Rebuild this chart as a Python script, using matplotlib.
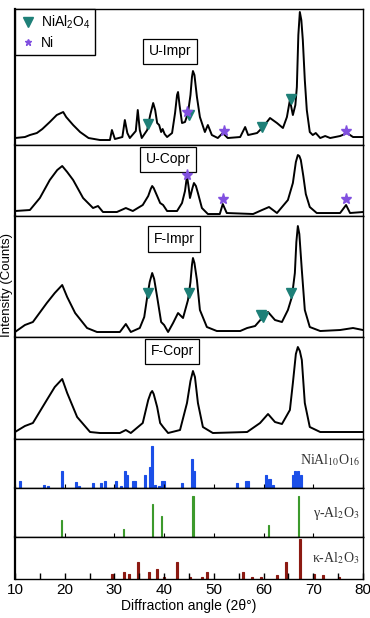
import matplotlib
matplotlib.use("Agg")
import matplotlib.pyplot as plt
from matplotlib.lines import Line2D

plt.rcParams["font.family"] = ["Liberation Sans", "DejaVu Sans"]
plt.rcParams["mathtext.fontset"] = "custom"
plt.rcParams["mathtext.rm"] = "Liberation Sans"
plt.rcParams["mathtext.it"] = "Liberation Sans:italic"

# ---- XRD patterns (2theta, intensity in a.u.) ----
u_impr_x = [10.0, 12.0, 13.0, 14.4, 15.5, 17.0, 18.4, 19.7, 20.3, 21.7, 23.1, 24.8, 27.1, 29.1,
            29.5, 30.1, 31.6, 32.1, 32.6, 33.1, 34.3, 34.7, 35.1, 35.5, 36.6, 37.2, 37.8, 38.2,
            38.6, 39.0, 39.4, 39.7, 40.1, 40.6, 41.6, 42.2, 42.6, 42.8, 43.1, 43.6, 44.2, 44.8,
            45.3, 45.6, 45.8, 46.1, 46.6, 47.2, 48.2, 48.8, 49.6, 50.8, 51.8, 52.8, 55.3, 56.3,
            56.9, 58.7, 59.9, 61.3, 62.7, 63.9, 64.7, 65.3, 65.9, 66.4, 66.7, 67.0, 67.3, 67.6,
            67.9, 68.3, 68.7, 69.3, 69.9, 70.5, 71.4, 72.4, 73.4, 75.4, 76.8, 78.0, 80.0]
u_impr_y = [7, 8, 10, 12, 16, 23, 30, 33, 28, 20, 13, 7, 5, 5,
            15, 6, 8, 25, 12, 7, 14, 35, 15, 7, 15, 30, 42, 35,
            22, 20, 13, 16, 11, 8, 12, 32, 50, 53, 40, 22, 23, 32,
            50, 68, 74, 70, 48, 28, 13, 20, 10, 7, 12, 7, 8, 18,
            10, 12, 18, 27, 22, 17, 28, 45, 30, 40, 58, 110, 133, 125,
            105, 65, 35, 13, 10, 12, 7, 9, 7, 9, 12, 8, 8]

u_copr_x = [10.0, 13.0, 15.0, 17.0, 18.5, 19.5, 20.5, 21.7, 23.7, 25.7, 26.7, 27.7, 30.5, 32.3,
            33.7, 35.7, 36.8, 37.3, 37.6, 37.9, 38.6, 39.2, 39.8, 40.6, 42.6, 43.6, 44.2, 44.6,
            44.9, 45.2, 45.7, 46.0, 46.4, 46.8, 47.6, 48.8, 51.2, 51.8, 52.6, 57.9, 59.7, 61.1,
            62.7, 64.9, 65.9, 66.5, 66.9, 67.2, 67.5, 68.0, 68.5, 69.3, 70.7, 75.4, 76.6, 77.4,
            80.0]
u_copr_y = [5, 6, 18, 36, 46, 50, 44, 36, 18, 8, 10, 4, 4, 8,
            5, 11, 20, 27, 30, 28, 20, 13, 11, 5, 5, 13, 25, 40,
            30, 18, 28, 33, 30, 23, 8, 2, 2, 12, 3, 2, 6, 9,
            3, 16, 33, 54, 61, 60, 56, 40, 22, 9, 3, 3, 11, 3,
            4]

f_impr_x = [10.0, 12.0, 13.6, 16.4, 18.0, 19.5, 20.5, 22.1, 24.5, 26.5, 31.1, 32.3, 33.3, 35.1,
            36.0, 36.6, 37.1, 37.6, 38.0, 38.6, 39.4, 40.0, 40.8, 41.8, 42.8, 43.8, 44.8, 45.3,
            45.6, 45.8, 46.1, 46.6, 47.2, 48.6, 50.6, 55.3, 56.7, 58.3, 59.7, 60.9, 62.3, 63.7,
            64.9, 65.7, 66.3, 66.6, 66.9, 67.2, 67.7, 68.3, 69.3, 71.4, 75.4, 78.0, 80.0]
f_impr_y = [5, 12, 15, 34, 44, 52, 40, 24, 9, 5, 5, 13, 5, 9,
            20, 40, 55, 64, 58, 40, 15, 12, 5, 14, 24, 19, 37, 55,
            72, 79, 74, 57, 27, 10, 6, 6, 9, 11, 19, 25, 17, 15,
            27, 40, 64, 95, 111, 103, 67, 27, 10, 6, 7, 9, 7]

f_copr_x = [10.0, 12.0, 13.6, 16.4, 18.0, 19.5, 20.5, 22.5, 25.1, 27.1, 31.1, 32.3, 33.3, 35.7,
            36.8, 37.3, 37.6, 37.9, 38.6, 39.2, 39.8, 40.8, 43.2, 44.6, 45.3, 45.8, 46.2, 46.8,
            47.8, 49.8, 56.7, 59.3, 60.9, 62.3, 63.7, 65.3, 65.9, 66.5, 66.9, 67.3, 67.7, 68.3,
            69.3, 71.4, 77.4, 80.0]
f_copr_y = [7, 13, 16, 39, 52, 60, 46, 22, 7, 6, 6, 9, 6, 16,
            39, 46, 48, 45, 32, 16, 12, 6, 9, 36, 58, 68, 62, 36,
            12, 6, 7, 16, 25, 17, 15, 29, 56, 85, 92, 88, 79, 36,
            12, 7, 7, 7]

# phase markers (2theta, height)
u_impr_spinel_x = [36.8, 45.0, 59.7, 65.5]
u_impr_spinel_y = [21, 30, 18, 46]
u_impr_ni_x = [44.6, 52.0, 76.6]
u_impr_ni_y = [33, 14, 14]
u_copr_ni_x = [44.6, 51.9, 76.6]
u_copr_ni_y = [41, 17, 17]
f_impr_spinel_x = [36.8, 45.0, 59.4, 59.9, 65.5]
f_impr_spinel_y = [44, 44, 22, 20, 44]

# reference patterns
nial10_pos = [11.1, 15.9, 16.7, 19.4, 22.2, 22.9, 25.6, 27.4, 28.1, 30.4, 31.4, 32.1, 32.6,
              33.7, 34.2, 36.1, 37.2, 37.6, 38.2, 38.9, 39.3, 39.6, 40.0, 43.5, 45.6, 46.1,
              54.6, 56.5, 56.9, 60.5, 61.0, 61.4, 61.9, 65.9, 66.3, 66.9, 67.5]
nial10_h = [7.3, 3.3, 1.7, 17.3, 5.7, 2.3, 5, 5, 6.7, 6.7, 1.7, 17.3, 13.3,
            6.7, 6.7, 13.3, 21, 41.7, 3.3, 1.7, 1.7, 6.7, 6.7, 5, 29, 16.7,
            5, 6.7, 6.7, 12.7, 9, 9, 3.3, 12.7, 16.7, 16.7, 12.7]
gamma_pos = [19.4, 31.9, 37.6, 39.5, 45.8, 61.0, 67.0]
gamma_h = [16.7, 8.3, 32.7, 20.7, 40.7, 12.3, 40.7]
kappa_pos = [29.5, 31.9, 33.0, 34.8, 37.0, 38.5, 40.0, 42.6, 45.2, 47.7, 48.7, 55.9, 57.6,
             59.5, 62.7, 64.5, 67.3, 70.2, 71.9, 75.2]
kappa_h = [5, 7.3, 5, 17, 7.3, 10.3, 1.7, 17, 1.7, 1.7, 7.3, 7.3, 1.7,
           1.7, 3.7, 17, 40, 5.3, 3.7, 1.7]

sample_names = ["U-Impr", "U-Copr", "F-Impr", "F-Copr"]
panel_heights = [136, 71, 121, 102, 49, 49, 42]

teal = "#1e8078"
purple = "#8150e0"

fig = plt.figure(figsize=(3.7, 6.18), dpi=100)
gs = fig.add_gridspec(7, 1, height_ratios=panel_heights, hspace=0,
                      left=0.0405, right=0.981, top=0.9854, bottom=0.0631)
axes = [fig.add_subplot(gs[0])]
for i in range(1, 7):
    axes.append(fig.add_subplot(gs[i], sharex=axes[0]))

curves = [(u_impr_x, u_impr_y), (u_copr_x, u_copr_y), (f_impr_x, f_impr_y), (f_copr_x, f_copr_y)]
label_pos = [(41.2, 0.69), (40.8, 0.80), (42.0, 0.81), (41.6, 0.86)]

for i, ax in enumerate(axes):
    ax.set_ylim(0, panel_heights[i])
    ax.set_yticks([])
    for s in ax.spines.values():
        s.set_linewidth(1.0)
    ax.spines["left"].set_linewidth(1.6)

for i in range(4):
    ax = axes[i]
    ax.plot(curves[i][0], curves[i][1], color="black", lw=1.4, solid_joinstyle="round")
    ax.tick_params(axis="x", length=0, labelbottom=False)
    ax.text(label_pos[i][0], label_pos[i][1], sample_names[i], transform=ax.get_xaxis_transform(),
            ha="center", va="center", fontsize=10,
            bbox=dict(boxstyle="square,pad=0.4", fc="white", ec="black", lw=0.9))

mk = dict(ls="none", zorder=5)
axes[0].plot(u_impr_spinel_x, u_impr_spinel_y, marker="v", ms=7, color=teal, **mk)
axes[0].plot(u_impr_ni_x, u_impr_ni_y, marker="*", ms=8, color=purple, **mk)
axes[1].plot(u_copr_ni_x, u_copr_ni_y, marker="*", ms=8, color=purple, **mk)
axes[2].plot(f_impr_spinel_x, f_impr_spinel_y, marker="v", ms=7, color=teal, **mk)

handles = [Line2D([], [], marker="v", ls="none", ms=7, color=teal),
           Line2D([], [], marker="*", ls="none", ms=5, color=purple)]
leg = axes[0].legend(handles, [r"NiAl$_2$O$_4$", "Ni"], loc="upper left", bbox_to_anchor=(0, 1),
                     borderaxespad=0, fancybox=False, edgecolor="black", framealpha=1,
                     fontsize=10, handletextpad=0.3, handlelength=1.2, borderpad=0.35,
                     labelspacing=0.35)
leg.get_frame().set_linewidth(1.0)

bar_sets = [(nial10_pos, nial10_h, "#1b4fe8", 0.4, r"NiAl$_{10}$O$_{16}$", 0.57),
            (gamma_pos, gamma_h, "#3c9a2c", 0.25, "\u03b3-Al$_2$O$_3$", 0.47),
            (kappa_pos, kappa_h, "#8c1a12", 0.4, "\u03ba-Al$_2$O$_3$", 0.5)]
for j, (pos, h, c, w, name, ly) in enumerate(bar_sets):
    ax = axes[4 + j]
    ax.bar(pos, h, width=w, color=c, edgecolor=c, linewidth=0.8)
    ax.text(79.4, ly, name, transform=ax.get_xaxis_transform(), ha="right", va="center",
            fontsize=10, family="Liberation Serif", math_fontfamily="stix", color="#333333")
    ax.set_xticks(range(10, 81, 10))
    ax.tick_params(axis="x", direction="in", length=3, labelbottom=False)

axb = axes[-1]
axb.set_xlim(10, 80)
axb.set_xticks(range(10, 81, 10))
axb.set_xticks(range(15, 80, 10), minor=True)
axb.tick_params(axis="x", which="both", direction="in", length=4, width=1.0,
                labelbottom=True, labelsize=11, pad=3)
axb.set_xlabel("Diffraction angle (2\u03b8\u00b0)", fontsize=10, labelpad=1)

fig.text(0.02, 1 - 285 / 618, "Intensity (Counts)", rotation=90, ha="center", va="center",
         fontsize=9.5)

fig.savefig("out.png", dpi=100)
